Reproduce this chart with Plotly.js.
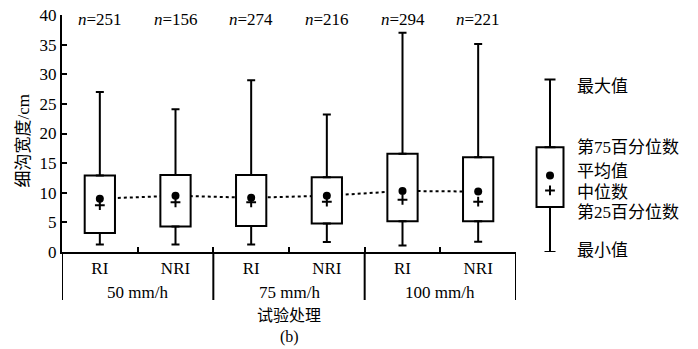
<!DOCTYPE html>
<html>
<head>
<meta charset="utf-8">
<script src="https://cdn.plot.ly/plotly-3.0.1.min.js"></script>
<style>html,body{margin:0;padding:0;background:#fff;}#chart{width:698px;height:349px;}</style>
</head>
<body>
<div id="chart"></div>
<script>
// ---- data ----
const treatments = ["RI", "NRI", "RI", "NRI", "RI", "NRI"];
const intensities = ["50 mm/h", "75 mm/h", "100 mm/h"];
const counts = [251, 156, 274, 216, 294, 221];
const maxVals = [27.0, 24.1, 29.0, 23.2, 37.0, 35.1];
const q3Vals = [12.9, 13.0, 13.0, 12.6, 16.6, 16.0];
const meanVals = [9.0, 9.5, 9.15, 9.5, 10.3, 10.2];
const medianVals = [7.9, 8.4, 8.4, 8.5, 8.8, 8.5];
const q1Vals = [3.2, 4.3, 4.4, 4.8, 5.2, 5.2];
const minVals = [1.25, 1.25, 1.25, 1.7, 1.1, 1.75];
// legend sample box
const legendSample = {max: 29.1, q3: 17.7, mean: 12.9, median: 10.4, q1: 7.6, min: 0.0};
const legendLabels = ["最大值", "第75百分位数", "平均值", "中位数", "第25百分位数", "最小值"];
const yTitle = "细沟宽度/cm";
const xTitle = "试验处理";
const panelLabel = "(b)";

const FONT = "Liberation Serif, Times New Roman, Noto Sans CJK SC, serif";
const idx = treatments.map((_, i) => i);

const traces = [
  // dotted line connecting means (drawn under the boxes)
  {type: "scatter", x: idx, y: meanVals, mode: "lines", xaxis: "x", yaxis: "y",
   line: {color: "black", width: 2, dash: "dot"}, hoverinfo: "skip"},
  // boxes
  {type: "bar", x: idx, y: q3Vals.map((v, i) => v - q1Vals[i]), base: q1Vals, width: 0.4,
   xaxis: "x2", yaxis: "y2", marker: {color: "white", line: {color: "black", width: 2}}},
  // upper whiskers
  {type: "scatter", x: idx, y: q3Vals, mode: "markers", xaxis: "x2", yaxis: "y2",
   marker: {size: 1, color: "rgba(0,0,0,0)"},
   error_y: {type: "data", symmetric: false, array: maxVals.map((v, i) => v - q3Vals[i]),
             arrayminus: idx.map(() => 0), color: "black", thickness: 2, width: 4}},
  // lower whiskers
  {type: "scatter", x: idx, y: q1Vals, mode: "markers", xaxis: "x2", yaxis: "y2",
   marker: {size: 1, color: "rgba(0,0,0,0)"},
   error_y: {type: "data", symmetric: false, array: idx.map(() => 0),
             arrayminus: q1Vals.map((v, i) => v - minVals[i]), color: "black", thickness: 2, width: 4}},
  // means
  {type: "scatter", x: idx, y: meanVals, mode: "markers", xaxis: "x2", yaxis: "y2",
   marker: {symbol: "circle", size: 8, color: "black"}},
  // medians
  {type: "scatter", x: idx, y: medianVals, mode: "markers", xaxis: "x2", yaxis: "y2",
   marker: {symbol: "cross-thin", size: 7, color: "black", line: {color: "black", width: 2}}},
  // legend sample
  {type: "bar", x: [0], y: [legendSample.q3 - legendSample.q1], base: [legendSample.q1], width: 0.45,
   xaxis: "x3", yaxis: "y", marker: {color: "white", line: {color: "black", width: 2}}},
  {type: "scatter", x: [0], y: [legendSample.q3], mode: "markers", xaxis: "x3", yaxis: "y",
   marker: {size: 1, color: "rgba(0,0,0,0)"},
   error_y: {type: "data", symmetric: false, array: [legendSample.max - legendSample.q3], arrayminus: [0],
             color: "black", thickness: 2, width: 5.5}},
  {type: "scatter", x: [0], y: [legendSample.q1], mode: "markers", xaxis: "x3", yaxis: "y",
   marker: {size: 1, color: "rgba(0,0,0,0)"},
   error_y: {type: "data", symmetric: false, array: [0], arrayminus: [legendSample.q1 - legendSample.min],
             color: "black", thickness: 2, width: 5.5}},
  {type: "scatter", x: [0], y: [legendSample.mean], mode: "markers", xaxis: "x3", yaxis: "y",
   marker: {symbol: "circle", size: 8, color: "black"}},
  {type: "scatter", x: [0], y: [legendSample.median], mode: "markers", xaxis: "x3", yaxis: "y",
   marker: {symbol: "cross-thin", size: 7, color: "black", line: {color: "black", width: 2}}}
];

const W = 698, H = 349, L = 62, R = 0, T = 15, B = 97;
const pw = W - L - R, ph = H - T - B;
const px = p => (p - L) / pw;
const py = p => (H - B - p) / ph;
const mainDomain = [0, px(516)];

const annotations = [];
counts.forEach((n, i) => annotations.push({
  x: i, xref: "x", y: 39.3, yref: "y", text: "<i>n</i>=" + n, showarrow: false,
  font: {family: FONT, size: 17, color: "black"}, yanchor: "middle"}));
intensities.forEach((t, g) => annotations.push({
  x: 2 * g + 0.5, xref: "x", y: py(292), yref: "paper", text: t, showarrow: false,
  font: {family: FONT, size: 17, color: "black"}, yanchor: "middle"}));
annotations.push({x: px(289), xref: "paper", y: py(326), yref: "paper", text: xTitle, showarrow: false,
  font: {family: FONT, size: 16, color: "black"}, yanchor: "bottom"});
annotations.push({x: px(289), xref: "paper", y: py(326), yref: "paper", text: panelLabel, showarrow: false,
  font: {family: FONT, size: 16, color: "black"}, yanchor: "top"});
annotations.push({x: px(23), xref: "paper", y: py(140.5), yref: "paper", text: yTitle, showarrow: false,
  textangle: -90, font: {family: FONT, size: 17, color: "black"}, xanchor: "center", yanchor: "middle"});
const legendY = [27.9, 17.6, 13.6, 10.05, 6.6, 0.25];
legendLabels.forEach((t, k) => annotations.push({
  x: px(575), xref: "paper", y: legendY[k], yref: "y", text: t, showarrow: false,
  xanchor: "left", yanchor: "middle", font: {family: FONT, size: 17, color: "black"}}));

const shapes = [-0.5, 1.5, 3.5, 5.5].map(v => ({
  type: "line", xref: "x", yref: "paper", x0: v, x1: v, y0: 0, y1: py(300),
  line: {color: "black", width: 2}}));

const layout = {
  width: W, height: H,
  margin: {l: L, r: R, t: T, b: B},
  paper_bgcolor: "white", plot_bgcolor: "white",
  showlegend: false,
  font: {family: FONT, size: 17, color: "black"},
  xaxis: {domain: mainDomain, range: [-0.5, 5.5], tickvals: idx, ticktext: treatments,
          ticks: "", showline: false, showgrid: false, zeroline: false, anchor: "y",
          ticklabelstandoff: 4,
          tickfont: {family: FONT, size: 17, color: "black"}},
  xaxis2: {overlaying: "x", range: [-0.5, 5.5], anchor: "y2", showline: true, linewidth: 2, linecolor: "black",
           ticks: "inside", tickvals: [-0.5, 0.5, 1.5, 2.5, 3.5, 4.5, 5.5], ticklen: 5, tickwidth: 2,
           tickcolor: "black", showticklabels: false, showgrid: false, zeroline: false},
  xaxis3: {domain: [px(520), px(580)], range: [-0.5, 0.5], anchor: "y", visible: false},
  yaxis: {range: [0, 40], dtick: 5, tick0: 0, ticks: "inside", ticklen: 5, tickwidth: 2, tickcolor: "black",
          showline: true, linewidth: 2, linecolor: "black", showgrid: false, zeroline: false,
          tickfont: {family: FONT, size: 17, color: "black"}},
  yaxis2: {overlaying: "y", range: [0, 40], visible: false},
  annotations: annotations,
  shapes: shapes,
  bargap: 0
};

Plotly.newPlot("chart", traces, layout, {staticPlot: true, displayModeBar: false});
</script>
</body>
</html>
